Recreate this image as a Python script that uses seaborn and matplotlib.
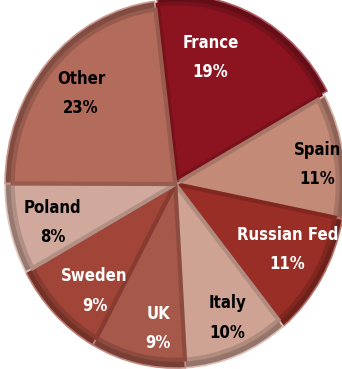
import numpy as np
import matplotlib
matplotlib.use("Agg")
import matplotlib.pyplot as plt
import matplotlib.colors as mcolors
from matplotlib import font_manager
import seaborn as sns

countries = ["France", "Spain", "Russian Fed", "Italy", "UK", "Sweden", "Poland", "Other"]
shares = [19, 11, 11, 10, 9, 9, 8, 23]
colors = ["#8C1420", "#C48A78", "#982E26", "#CFA394", "#A6584A", "#A04538", "#D0A89C", "#B36B5C"]
text_colors = ["white", "black", "white", "black", "white", "white", "black", "black"]
# label placement (radius, angle offset in degrees from wedge middle)
label_dist = [0.69, 0.84, 0.75, 0.79, 0.79, 0.75, 0.75, 0.74]
label_rot = [10.5, -1.5, 2.5, 1.5, 5.5, 6.0, 2.0, 0.0]
explode = [0.03, 0, 0, 0, 0, 0, 0, 0]

sns.set_theme(style="white")
plt.rcParams["font.family"] = ["DejaVu Sans"]

cond = None
for f in font_manager.fontManager.ttflist:
    if "Condensed" in f.fname and "Bold" in f.fname and "Oblique" not in f.fname and "Italic" not in f.fname:
        cond = f.fname
        break
fp = font_manager.FontProperties(fname=cond) if cond else font_manager.FontProperties(family="DejaVu Sans", weight="bold")

fig = plt.figure(figsize=(3.42, 3.69), dpi=100)
ax = fig.add_axes([0, 0, 1, 1])

def darker(c, f=0.72):
    r, g, b = mcolors.to_rgb(c)
    return (r * f, g * f, b * f)

def lighter(c, f=0.25):
    r, g, b = mcolors.to_rgb(c)
    return (r + (1 - r) * f, g + (1 - g) * f, b + (1 - b) * f)

wedges, _ = ax.pie(shares, colors=[darker(c) for c in colors], startangle=97,
                   counterclock=False, explode=explode, radius=1.0,
                   wedgeprops=dict(linewidth=1.2))
for w, c in zip(wedges, colors):
    w.set_edgecolor(lighter(c, 0.3))
wedges2, _ = ax.pie(shares, colors=colors, startangle=97, counterclock=False,
                    explode=explode, radius=0.955,
                    wedgeprops=dict(linewidth=3.0))
for w, c in zip(wedges2, colors):
    w.set_edgecolor(darker(c, 0.85))

for w, name, v, tc, d, r, e in zip(wedges, countries, shares, text_colors, label_dist, label_rot, explode):
    ang = np.deg2rad((w.theta1 + w.theta2) / 2 + r)
    x = (d + e) * np.cos(ang)
    y = (d + e) * np.sin(ang)
    ax.text(x, y, f"{name}\n{v}%", ha="center", va="center", color=tc,
            fontproperties=fp, fontsize=12, linespacing=1.8)

ax.set_aspect("auto")
ax.set_xlim(-1.03, 0.98)
ax.set_ylim(-1.005, 1.0)
ax.axis("off")
fig.savefig("out.png", dpi=100, facecolor="white")
